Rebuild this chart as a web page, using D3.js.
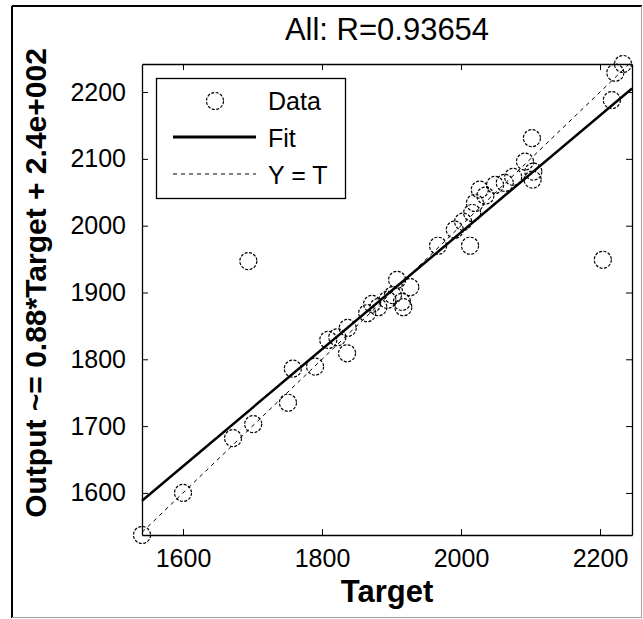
<!DOCTYPE html>
<html>
<head>
<meta charset="utf-8">
<script src="https://cdn.jsdelivr.net/npm/d3@7"></script>
<style>
  body { margin: 0; background: #fff; overflow: hidden; }
  svg { display: block; }
  text { font-family: "Liberation Sans", Arial, sans-serif; }
</style>
</head>
<body>
<div id="chart"></div>
<script>
const title = "All: R=0.93654";
const xLabel = "Target";
const yLabel = "Output ~= 0.88*Target + 2.4e+002";
const targets = [1541, 1600, 1672, 1694, 1701, 1751, 1758, 1790, 1809, 1822, 1837, 1836, 1865, 1872, 1881, 1894, 1902, 1908, 1915, 1917, 1927, 1967, 1991, 2003, 2013, 2016, 2020, 2027, 2035, 2049, 2063, 2075, 2092, 2102, 2104, 2103, 2204, 2217, 2222, 2233];
const outputs = [1537, 1600, 1682, 1947, 1703, 1735, 1786, 1789, 1829, 1833, 1847, 1809, 1869, 1883, 1878, 1889, 1896, 1919, 1886, 1878, 1908, 1970, 1994, 2006, 1970, 2019, 2034, 2054, 2045, 2061, 2064, 2073, 2096, 2131, 2081, 2069, 1949, 2188, 2229, 2242];
const xTicks = [1600, 1800, 2000, 2200];
const yTicks = [1600, 1700, 1800, 1900, 2000, 2100, 2200];
const fitSlope = 0.875;
const fitIntercept = 240;
const legendLabels = ["Data", "Fit", "Y = T"];

const width = 643, height = 619;
const margin = { top: 64, right: 11, bottom: 84, left: 142 };
const innerWidth = width - margin.left - margin.right;
const innerHeight = height - margin.top - margin.bottom;

const xScale = d3.scaleLinear().domain([1541, 2246]).range([0, innerWidth]);
const yScale = d3.scaleLinear().domain([1537, 2242]).range([innerHeight, 0]);

const svg = d3.select('#chart').append('svg').attr('width', width).attr('height', height);

// figure frame
svg.append('line').attr('x1', 12).attr('x2', 642).attr('y1', 6).attr('y2', 6).attr('stroke', '#000').attr('stroke-width', 2);
svg.append('line').attr('x1', 12).attr('x2', 12).attr('y1', 6).attr('y2', 618).attr('stroke', '#000').attr('stroke-width', 2);
svg.append('line').attr('x1', 12).attr('x2', 642).attr('y1', 617.5).attr('y2', 617.5).attr('stroke', '#a0a0a0');
svg.append('line').attr('x1', 641.5).attr('x2', 641.5).attr('y1', 6).attr('y2', 618).attr('stroke', '#a0a0a0');

const chart = svg.append('g').attr('transform', `translate(${margin.left},${margin.top})`);

// axes (ticks inward, box on)
const xAxis = d3.axisBottom(xScale).tickValues(xTicks).tickSizeInner(-6).tickSizeOuter(0).tickPadding(14).tickFormat(d3.format('d'));
const yAxis = d3.axisLeft(yScale).tickValues(yTicks).tickSizeInner(-6).tickSizeOuter(0).tickPadding(16).tickFormat(d3.format('d'));
const xTop = d3.axisTop(xScale).tickValues(xTicks).tickSizeInner(-6).tickSizeOuter(0).tickFormat('');
const yRight = d3.axisRight(yScale).tickValues(yTicks).tickSizeInner(-6).tickSizeOuter(0).tickFormat('');

chart.append('g').attr('transform', `translate(0,${innerHeight})`).call(xAxis);
chart.append('g').call(yAxis);
chart.append('g').call(xTop);
chart.append('g').attr('transform', `translate(${innerWidth},0)`).call(yRight);
chart.selectAll('.domain').attr('stroke', '#000').attr('stroke-width', 1.3);
chart.selectAll('.tick line').attr('stroke', '#000');
chart.selectAll('.tick text').attr('font-size', 25).attr('fill', '#000').attr('font-family', '"Liberation Sans", Arial, sans-serif');

// Y = T line
const [lo, hi] = xScale.domain();
chart.append('line')
  .attr('x1', xScale(lo)).attr('y1', yScale(lo))
  .attr('x2', xScale(hi)).attr('y2', yScale(hi))
  .attr('stroke', '#000').attr('stroke-width', 1).attr('stroke-dasharray', '4,4');

// fit line
const fitLine = d3.line().x(d => xScale(d)).y(d => yScale(fitSlope * d + fitIntercept));
chart.append('path').datum([lo, hi]).attr('d', fitLine)
  .attr('fill', 'none').attr('stroke', '#000').attr('stroke-width', 2.5);

// data
chart.selectAll('.pt')
  .data(targets.map((t, i) => [t, outputs[i]]))
  .enter()
  .append('circle')
  .attr('class', 'pt')
  .attr('cx', d => xScale(d[0]))
  .attr('cy', d => yScale(d[1]))
  .attr('r', 8.5)
  .attr('fill', 'none')
  .attr('stroke', '#000')
  .attr('stroke-width', 1.2)
  .attr('stroke-dasharray', '3,1.5');

// legend
const legend = svg.append('g');
legend.append('rect').attr('x', 156.5).attr('y', 78.5).attr('width', 189).attr('height', 120)
  .attr('fill', '#fff').attr('stroke', '#000').attr('stroke-width', 1.3);
legend.append('circle').attr('cx', 215).attr('cy', 101).attr('r', 8.5)
  .attr('fill', 'none').attr('stroke', '#000').attr('stroke-width', 1.2).attr('stroke-dasharray', '3,1.5');
legend.append('line').attr('x1', 173).attr('x2', 256).attr('y1', 137).attr('y2', 137)
  .attr('stroke', '#000').attr('stroke-width', 3);
legend.append('line').attr('x1', 173).attr('x2', 256).attr('y1', 174).attr('y2', 174)
  .attr('stroke', '#000').attr('stroke-width', 1).attr('stroke-dasharray', '4,4');
legend.selectAll('.lt')
  .data(legendLabels)
  .enter()
  .append('text')
  .attr('x', 268)
  .attr('y', (d, i) => 110 + i * 37)
  .attr('font-size', 25)
  .text(d => d);

// title and labels
svg.append('text').attr('x', margin.left + innerWidth / 2).attr('y', 40)
  .attr('text-anchor', 'middle').attr('font-size', 31).text(title);
svg.append('text').attr('x', margin.left + innerWidth / 2).attr('y', 602)
  .attr('text-anchor', 'middle').attr('font-size', 31).attr('font-weight', 'bold').text(xLabel);
svg.append('text')
  .attr('transform', `translate(46,283) rotate(-90)`)
  .attr('text-anchor', 'middle').attr('font-size', 30).attr('font-weight', 'bold').text(yLabel);
</script>
</body>
</html>
